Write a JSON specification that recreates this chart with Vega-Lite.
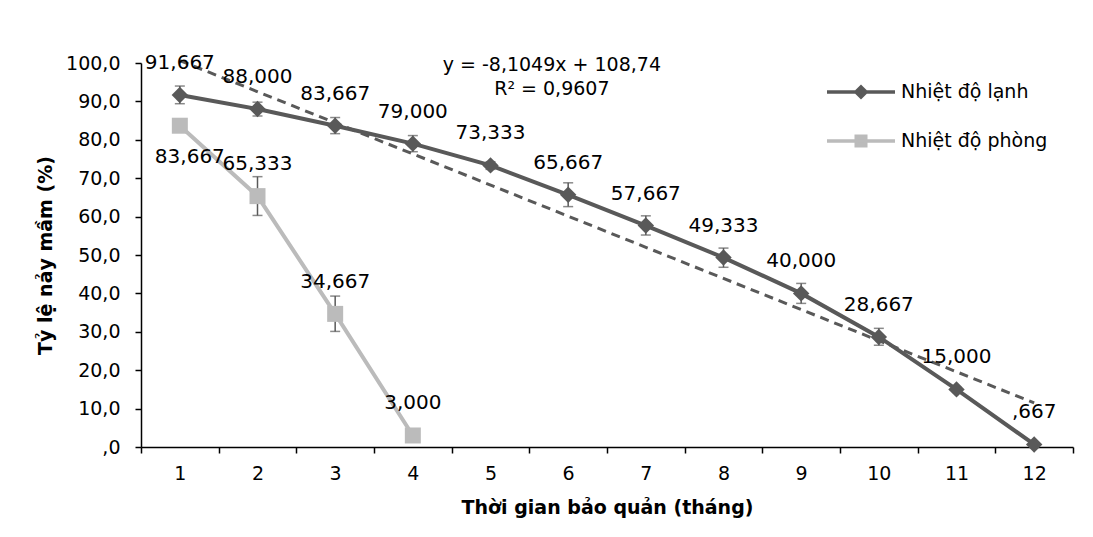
{
  "$schema": "https://vega.github.io/schema/vega-lite/v6.json",
  "width": 932,
  "height": 384,
  "autosize": {"type": "none"},
  "padding": {"left": 141, "top": 63, "right": 20, "bottom": 90},
  "background": "white",
  "config": {"view": {"stroke": null}, "font": "DejaVu Sans"},
  "datasets": {
    "series": [
      {"month": 1, "series": "Nhiệt độ lạnh", "value": 91.667, "lo": 89.4, "hi": 94.0, "label": "91,667"},
      {"month": 2, "series": "Nhiệt độ lạnh", "value": 88.0, "lo": 86.2, "hi": 89.8, "label": "88,000"},
      {"month": 3, "series": "Nhiệt độ lạnh", "value": 83.667, "lo": 81.6, "hi": 85.8, "label": "83,667"},
      {"month": 4, "series": "Nhiệt độ lạnh", "value": 79.0, "lo": 76.9, "hi": 81.1, "label": "79,000"},
      {"month": 5, "series": "Nhiệt độ lạnh", "value": 73.333, "lo": 72.3, "hi": 74.3, "label": "73,333"},
      {"month": 6, "series": "Nhiệt độ lạnh", "value": 65.667, "lo": 62.6, "hi": 68.8, "label": "65,667"},
      {"month": 7, "series": "Nhiệt độ lạnh", "value": 57.667, "lo": 55.2, "hi": 60.2, "label": "57,667"},
      {"month": 8, "series": "Nhiệt độ lạnh", "value": 49.333, "lo": 46.8, "hi": 51.8, "label": "49,333"},
      {"month": 9, "series": "Nhiệt độ lạnh", "value": 40.0, "lo": 37.4, "hi": 42.6, "label": "40,000"},
      {"month": 10, "series": "Nhiệt độ lạnh", "value": 28.667, "lo": 26.5, "hi": 30.9, "label": "28,667"},
      {"month": 11, "series": "Nhiệt độ lạnh", "value": 15.0, "lo": 14.5, "hi": 15.5, "label": "15,000"},
      {"month": 12, "series": "Nhiệt độ lạnh", "value": 0.667, "lo": 0.3, "hi": 1.0, "label": ",667"},
      {"month": 1, "series": "Nhiệt độ phòng", "value": 83.667, "lo": 82.8, "hi": 84.5, "label": "83,667"},
      {"month": 2, "series": "Nhiệt độ phòng", "value": 65.333, "lo": 60.3, "hi": 70.4, "label": "65,333"},
      {"month": 3, "series": "Nhiệt độ phòng", "value": 34.667, "lo": 30.1, "hi": 39.3, "label": "34,667"},
      {"month": 4, "series": "Nhiệt độ phòng", "value": 3.0, "lo": 2.5, "hi": 3.5, "label": "3,000"}
    ],
    "trend": [
      {"month": 1, "value": 100.635},
      {"month": 12, "value": 11.481}
    ],
    "eq": [
      {"month": 5.79, "value": 99.5, "text": "y = -8,1049x + 108,74"},
      {"month": 5.79, "value": 93.2, "text": "R² = 0,9607"}
    ]
  },
  "encoding": {
    "x": {
      "field": "month",
      "type": "quantitative",
      "scale": {"domain": [0.5, 12.5], "nice": false, "zero": false},
      "axis": {
        "values": [0.5, 1, 1.5, 2, 2.5, 3, 3.5, 4, 4.5, 5, 5.5, 6, 6.5, 7, 7.5, 8, 8.5, 9, 9.5, 10, 10.5, 11, 11.5, 12, 12.5],
        "labelExpr": "datum.value % 1 === 0 ? format(datum.value, 'd') : ''",
        "tickOpacity": {"condition": {"test": "datum.value % 1 !== 0", "value": 1}, "value": 0},
        "grid": false,
        "tickSize": 6,
        "tickWidth": 1.5,
        "tickColor": "black",
        "domainColor": "black",
        "domainWidth": 1.5,
        "labelFont": "DejaVu Sans",
        "labelFontSize": 19,
        "labelColor": "black",
        "labelPadding": 11,
        "labelFlush": false,
        "labelOverlap": false,
        "title": "Thời gian bảo quản (tháng)",
        "titleFont": "DejaVu Sans",
        "titleFontSize": 19,
        "titleFontWeight": "bold",
        "titleColor": "black",
        "titlePadding": 15
      }
    },
    "y": {
      "field": "value",
      "type": "quantitative",
      "scale": {"domain": [0, 100], "nice": false},
      "axis": {
        "values": [0, 10, 20, 30, 40, 50, 60, 70, 80, 90, 100],
        "labelExpr": "datum.value === 0 ? ',0' : replace(format(datum.value, '.1f'), '.', ',')",
        "grid": false,
        "tickSize": 6,
        "tickWidth": 1.5,
        "tickColor": "black",
        "domainColor": "black",
        "domainWidth": 1.5,
        "labelFont": "DejaVu Sans",
        "labelFontSize": 19,
        "labelColor": "black",
        "labelPadding": 15,
        "title": "Tỷ lệ nảy mầm (%)",
        "titleFont": "DejaVu Sans",
        "titleFontSize": 19,
        "titleFontWeight": "bold",
        "titleColor": "black",
        "titlePadding": 10
      }
    }
  },
  "layer": [
    {
      "data": {"name": "series"},
      "mark": {"type": "rule", "color": "#595959", "strokeWidth": 1.5},
      "encoding": {"y": {"field": "lo", "type": "quantitative"}, "y2": {"field": "hi"}}
    },
    {
      "data": {"name": "series"},
      "mark": {"type": "tick", "orient": "horizontal", "color": "#595959", "size": 10, "thickness": 1.5},
      "encoding": {"y": {"field": "lo", "type": "quantitative"}}
    },
    {
      "data": {"name": "series"},
      "mark": {"type": "tick", "orient": "horizontal", "color": "#595959", "size": 10, "thickness": 1.5},
      "encoding": {"y": {"field": "hi", "type": "quantitative"}}
    },
    {
      "data": {"name": "trend"},
      "mark": {"type": "line", "color": "#595959", "strokeWidth": 3, "strokeDash": [9, 6]},
      "encoding": {}
    },
    {
      "data": {"name": "series"},
      "mark": {"type": "line", "strokeWidth": 4},
      "encoding": {
        "color": {
          "field": "series",
          "type": "nominal",
          "scale": {"domain": ["Nhiệt độ lạnh", "Nhiệt độ phòng"], "range": ["#595959", "#BBBBBB"]},
          "legend": {
            "orient": "none",
            "legendX": 684,
            "legendY": -7,
            "title": null,
            "labelFont": "DejaVu Sans",
            "labelFontSize": 19,
            "labelColor": "black",
            "labelOffset": 4,
            "rowPadding": -8,
            "encode": {
              "symbols": {
                "update": {
                  "shape": {"signal": "datum.value === 'Nhiệt độ lạnh' ? 'M-1,0H1M0,-0.15L0.15,0L0,0.15L-0.15,0Z' : 'M-1,0H1M-0.14,-0.14H0.14V0.14H-0.14Z'"},
                  "size": {"value": 4624},
                  "fill": {"scale": "color", "field": "value"},
                  "stroke": {"scale": "color", "field": "value"},
                  "strokeWidth": {"value": 3.5},
                  "opacity": {"value": 1}
                }
              }
            }
          }
        }
      }
    },
    {
      "data": {"name": "series"},
      "transform": [{"filter": "datum.series === 'Nhiệt độ lạnh'"}],
      "mark": {"type": "point", "shape": "diamond", "filled": true, "opacity": 1, "color": "#595959", "size": 270}
    },
    {
      "data": {"name": "series"},
      "transform": [{"filter": "datum.series === 'Nhiệt độ phòng'"}],
      "mark": {"type": "point", "shape": "square", "filled": true, "opacity": 1, "color": "#BBBBBB", "size": 256}
    },
    {
      "data": {"name": "series"},
      "transform": [{"filter": "!(datum.series === 'Nhiệt độ phòng' && datum.month === 1)"}],
      "mark": {"type": "text", "font": "DejaVu Sans", "fontSize": 20, "color": "black", "dy": -32, "baseline": "middle", "align": "center"},
      "encoding": {"text": {"field": "label"}}
    },
    {
      "data": {"name": "series"},
      "transform": [{"filter": "datum.series === 'Nhiệt độ phòng' && datum.month === 1"}],
      "mark": {"type": "text", "font": "DejaVu Sans", "fontSize": 20, "color": "black", "dy": 31, "dx": 10, "baseline": "middle", "align": "center"},
      "encoding": {"text": {"field": "label"}}
    },
    {
      "data": {"name": "eq"},
      "mark": {"type": "text", "font": "DejaVu Sans", "fontSize": 19, "color": "black", "baseline": "middle", "align": "center"},
      "encoding": {"text": {"field": "text"}}
    }
  ]
}
